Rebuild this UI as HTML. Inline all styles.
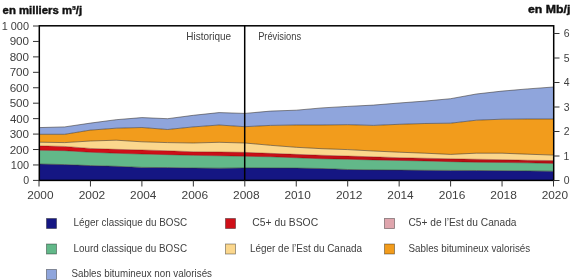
<!DOCTYPE html>
<html><head><meta charset="utf-8"><style>
html,body{margin:0;padding:0;background:#fff;width:580px;height:280px;overflow:hidden}
svg{display:block;will-change:transform}
text{font-family:"Liberation Sans",sans-serif}
</style></head><body>
<svg width="580" height="280" viewBox="0 0 580 280">
<rect width="580" height="280" fill="#fff"/>
<polygon points="39.00,164.00 64.72,164.60 90.45,165.60 116.17,166.30 141.90,167.40 167.62,167.60 193.35,168.00 219.07,168.20 244.80,167.90 270.52,168.00 296.25,168.10 321.98,168.50 347.70,169.50 373.43,169.90 399.15,170.10 424.88,170.30 450.60,170.40 476.32,170.50 502.05,170.70 527.77,170.90 553.50,171.20 553.50,180.50 527.77,180.50 502.05,180.50 476.32,180.50 450.60,180.50 424.88,180.50 399.15,180.50 373.43,180.50 347.70,180.50 321.98,180.50 296.25,180.50 270.52,180.50 244.80,180.50 219.07,180.50 193.35,180.50 167.62,180.50 141.90,180.50 116.17,180.50 90.45,180.50 64.72,180.50 39.00,180.50" fill="#151683"/>
<polygon points="39.00,150.25 64.72,150.65 90.45,152.25 116.17,153.25 141.90,154.05 167.62,154.65 193.35,155.35 219.07,155.75 244.80,156.25 270.52,156.75 296.25,157.75 321.98,158.75 347.70,159.25 373.43,159.95 399.15,160.45 424.88,160.95 450.60,161.65 476.32,162.25 502.05,162.45 527.77,162.85 553.50,163.45 553.50,171.20 527.77,170.90 502.05,170.70 476.32,170.50 450.60,170.40 424.88,170.30 399.15,170.10 373.43,169.90 347.70,169.50 321.98,168.50 296.25,168.10 270.52,168.00 244.80,167.90 219.07,168.20 193.35,168.00 167.62,167.60 141.90,167.40 116.17,166.30 90.45,165.60 64.72,164.60 39.00,164.00" fill="#62b889"/>
<defs><linearGradient id="rg" gradientUnits="userSpaceOnUse" x1="39" y1="0" x2="553" y2="0"><stop offset="0" stop-color="#d40f18"/><stop offset="0.45" stop-color="#c80f17"/><stop offset="1" stop-color="#b60f15"/></linearGradient></defs>
<polygon points="39.00,145.85 64.72,146.45 90.45,148.45 116.17,149.35 141.90,149.95 167.62,150.75 193.35,151.75 219.07,151.95 244.80,152.35 270.52,153.35 296.25,154.35 321.98,155.25 347.70,156.05 373.43,156.85 399.15,157.65 424.88,158.25 450.60,158.75 476.32,159.25 502.05,159.65 527.77,160.25 553.50,160.55 553.50,163.45 527.77,162.85 502.05,162.45 476.32,162.25 450.60,161.65 424.88,160.95 399.15,160.45 373.43,159.95 347.70,159.25 321.98,158.75 296.25,157.75 270.52,156.75 244.80,156.25 219.07,155.75 193.35,155.35 167.62,154.65 141.90,154.05 116.17,153.25 90.45,152.25 64.72,150.65 39.00,150.25" fill="url(#rg)"/>
<polygon points="39.00,142.20 64.72,142.60 90.45,141.00 116.17,140.20 141.90,141.80 167.62,142.60 193.35,143.00 219.07,142.30 244.80,143.00 270.52,145.30 296.25,147.30 321.98,148.70 347.70,149.60 373.43,151.00 399.15,152.20 424.88,153.20 450.60,154.40 476.32,153.20 502.05,153.20 527.77,154.20 553.50,155.10 553.50,160.55 527.77,160.25 502.05,159.65 476.32,159.25 450.60,158.75 424.88,158.25 399.15,157.65 373.43,156.85 347.70,156.05 321.98,155.25 296.25,154.35 270.52,153.35 244.80,152.35 219.07,151.95 193.35,151.75 167.62,150.75 141.90,149.95 116.17,149.35 90.45,148.45 64.72,146.45 39.00,145.85" fill="#fbd78d"/>
<polygon points="39.00,134.30 64.72,134.30 90.45,130.10 116.17,128.20 141.90,127.50 167.62,129.50 193.35,126.90 219.07,125.00 244.80,126.70 270.52,125.40 296.25,125.00 321.98,125.00 347.70,124.70 373.43,125.40 399.15,124.30 424.88,123.50 450.60,123.20 476.32,120.20 502.05,119.20 527.77,119.00 553.50,119.00 553.50,155.10 527.77,154.20 502.05,153.20 476.32,153.20 450.60,154.40 424.88,153.20 399.15,152.20 373.43,151.00 347.70,149.60 321.98,148.70 296.25,147.30 270.52,145.30 244.80,143.00 219.07,142.30 193.35,143.00 167.62,142.60 141.90,141.80 116.17,140.20 90.45,141.00 64.72,142.60 39.00,142.20" fill="#f29c1c"/>
<polygon points="39.00,127.60 64.72,126.90 90.45,123.10 116.17,119.70 141.90,117.60 167.62,118.70 193.35,115.30 219.07,112.60 244.80,113.40 270.52,111.10 296.25,110.20 321.98,107.90 347.70,106.40 373.43,105.10 399.15,103.00 424.88,101.10 450.60,98.70 476.32,94.00 502.05,91.10 527.77,88.90 553.50,87.00 553.50,119.00 527.77,119.00 502.05,119.20 476.32,120.20 450.60,123.20 424.88,123.50 399.15,124.30 373.43,125.40 347.70,124.70 321.98,125.00 296.25,125.00 270.52,125.40 244.80,126.70 219.07,125.00 193.35,126.90 167.62,129.50 141.90,127.50 116.17,128.20 90.45,130.10 64.72,134.30 39.00,134.30" fill="#8fa5dc"/>
<polyline points="39.00,164.00 64.72,164.60 90.45,165.60 116.17,166.30 141.90,167.40 167.62,167.60 193.35,168.00 219.07,168.20 244.80,167.90 270.52,168.00 296.25,168.10 321.98,168.50 347.70,169.50 373.43,169.90 399.15,170.10 424.88,170.30 450.60,170.40 476.32,170.50 502.05,170.70 527.77,170.90 553.50,171.20" fill="none" stroke="rgba(50,45,40,0.6)" stroke-width="0.9"/>
<polyline points="39.00,142.20 64.72,142.60 90.45,141.00 116.17,140.20 141.90,141.80 167.62,142.60 193.35,143.00 219.07,142.30 244.80,143.00 270.52,145.30 296.25,147.30 321.98,148.70 347.70,149.60 373.43,151.00 399.15,152.20 424.88,153.20 450.60,154.40 476.32,153.20 502.05,153.20 527.77,154.20 553.50,155.10" fill="none" stroke="rgba(50,45,40,0.6)" stroke-width="0.9"/>
<polyline points="39.00,134.30 64.72,134.30 90.45,130.10 116.17,128.20 141.90,127.50 167.62,129.50 193.35,126.90 219.07,125.00 244.80,126.70 270.52,125.40 296.25,125.00 321.98,125.00 347.70,124.70 373.43,125.40 399.15,124.30 424.88,123.50 450.60,123.20 476.32,120.20 502.05,119.20 527.77,119.00 553.50,119.00" fill="none" stroke="rgba(50,45,40,0.6)" stroke-width="0.9"/>
<polyline points="39.00,127.60 64.72,126.90 90.45,123.10 116.17,119.70 141.90,117.60 167.62,118.70 193.35,115.30 219.07,112.60 244.80,113.40 270.52,111.10 296.25,110.20 321.98,107.90 347.70,106.40 373.43,105.10 399.15,103.00 424.88,101.10 450.60,98.70 476.32,94.00 502.05,91.10 527.77,88.90 553.50,87.00" fill="none" stroke="rgba(50,45,40,0.6)" stroke-width="0.9"/>
<polyline points="39.00,145.85 64.72,146.45 90.45,148.45 116.17,149.35 141.90,149.95 167.62,150.75 193.35,151.75 219.07,151.95 244.80,152.35 270.52,153.35 296.25,154.35 321.98,155.25 347.70,156.05 373.43,156.85 399.15,157.65 424.88,158.25 450.60,158.75 476.32,159.25 502.05,159.65 527.77,160.25 553.50,160.55" fill="none" stroke="rgba(90,0,0,0.5)" stroke-width="0.7"/>
<polyline points="39.00,150.25 64.72,150.65 90.45,152.25 116.17,153.25 141.90,154.05 167.62,154.65 193.35,155.35 219.07,155.75 244.80,156.25 270.52,156.75 296.25,157.75 321.98,158.75 347.70,159.25 373.43,159.95 399.15,160.45 424.88,160.95 450.60,161.65 476.32,162.25 502.05,162.45 527.77,162.85 553.50,163.45" fill="none" stroke="rgba(80,0,0,0.5)" stroke-width="0.7"/>
<rect x="39.3" y="25.8" width="514.4000000000001" height="154.6" fill="none" stroke="#000" stroke-width="1.5"/>
<line x1="244.7" y1="25.5" x2="244.7" y2="180.5" stroke="#000" stroke-width="1.5"/>
<line x1="33" y1="180.40" x2="39.0" y2="180.40" stroke="#333" stroke-width="1"/>
<line x1="33" y1="164.96" x2="39.0" y2="164.96" stroke="#333" stroke-width="1"/>
<line x1="33" y1="149.52" x2="39.0" y2="149.52" stroke="#333" stroke-width="1"/>
<line x1="33" y1="134.08" x2="39.0" y2="134.08" stroke="#333" stroke-width="1"/>
<line x1="33" y1="118.64" x2="39.0" y2="118.64" stroke="#333" stroke-width="1"/>
<line x1="33" y1="103.20" x2="39.0" y2="103.20" stroke="#333" stroke-width="1"/>
<line x1="33" y1="87.76" x2="39.0" y2="87.76" stroke="#333" stroke-width="1"/>
<line x1="33" y1="72.32" x2="39.0" y2="72.32" stroke="#333" stroke-width="1"/>
<line x1="33" y1="56.88" x2="39.0" y2="56.88" stroke="#333" stroke-width="1"/>
<line x1="33" y1="41.44" x2="39.0" y2="41.44" stroke="#333" stroke-width="1"/>
<line x1="33" y1="26.00" x2="39.0" y2="26.00" stroke="#333" stroke-width="1"/>
<line x1="553.5" y1="180.50" x2="559.5" y2="180.50" stroke="#333" stroke-width="1"/>
<line x1="553.5" y1="156.00" x2="559.5" y2="156.00" stroke="#333" stroke-width="1"/>
<line x1="553.5" y1="131.50" x2="559.5" y2="131.50" stroke="#333" stroke-width="1"/>
<line x1="553.5" y1="107.00" x2="559.5" y2="107.00" stroke="#333" stroke-width="1"/>
<line x1="553.5" y1="82.50" x2="559.5" y2="82.50" stroke="#333" stroke-width="1"/>
<line x1="553.5" y1="58.00" x2="559.5" y2="58.00" stroke="#333" stroke-width="1"/>
<line x1="553.5" y1="33.50" x2="559.5" y2="33.50" stroke="#333" stroke-width="1"/>
<line x1="39.00" y1="180.5" x2="39.00" y2="186.5" stroke="#333" stroke-width="1"/>
<line x1="90.45" y1="180.5" x2="90.45" y2="186.5" stroke="#333" stroke-width="1"/>
<line x1="141.90" y1="180.5" x2="141.90" y2="186.5" stroke="#333" stroke-width="1"/>
<line x1="193.35" y1="180.5" x2="193.35" y2="186.5" stroke="#333" stroke-width="1"/>
<line x1="244.80" y1="180.5" x2="244.80" y2="186.5" stroke="#333" stroke-width="1"/>
<line x1="296.25" y1="180.5" x2="296.25" y2="186.5" stroke="#333" stroke-width="1"/>
<line x1="347.70" y1="180.5" x2="347.70" y2="186.5" stroke="#333" stroke-width="1"/>
<line x1="399.15" y1="180.5" x2="399.15" y2="186.5" stroke="#333" stroke-width="1"/>
<line x1="450.60" y1="180.5" x2="450.60" y2="186.5" stroke="#333" stroke-width="1"/>
<line x1="502.05" y1="180.5" x2="502.05" y2="186.5" stroke="#333" stroke-width="1"/>
<line x1="553.50" y1="180.5" x2="553.50" y2="186.5" stroke="#333" stroke-width="1"/>
<text x="23.16" y="184.40" font-size="11" font-weight="normal" textLength="5.90" lengthAdjust="spacingAndGlyphs" fill="#404040">0</text>
<text x="10.86" y="168.96" font-size="11" font-weight="normal" textLength="18.20" lengthAdjust="spacingAndGlyphs" fill="#404040">100</text>
<text x="9.67" y="153.52" font-size="11" font-weight="normal" textLength="19.41" lengthAdjust="spacingAndGlyphs" fill="#404040">200</text>
<text x="9.67" y="138.08" font-size="11" font-weight="normal" textLength="19.41" lengthAdjust="spacingAndGlyphs" fill="#404040">300</text>
<text x="9.94" y="122.64" font-size="11" font-weight="normal" textLength="19.14" lengthAdjust="spacingAndGlyphs" fill="#404040">400</text>
<text x="9.67" y="107.20" font-size="11" font-weight="normal" textLength="19.41" lengthAdjust="spacingAndGlyphs" fill="#404040">500</text>
<text x="9.67" y="91.76" font-size="11" font-weight="normal" textLength="19.41" lengthAdjust="spacingAndGlyphs" fill="#404040">600</text>
<text x="9.67" y="76.32" font-size="11" font-weight="normal" textLength="19.41" lengthAdjust="spacingAndGlyphs" fill="#404040">700</text>
<text x="9.67" y="60.88" font-size="11" font-weight="normal" textLength="19.41" lengthAdjust="spacingAndGlyphs" fill="#404040">800</text>
<text x="9.67" y="45.44" font-size="11" font-weight="normal" textLength="19.41" lengthAdjust="spacingAndGlyphs" fill="#404040">900</text>
<text x="1.66" y="30.00" font-size="11" font-weight="normal" textLength="27.32" lengthAdjust="spacingAndGlyphs" fill="#404040">1 000</text>
<text x="563.85" y="184.30" font-size="11" font-weight="normal" textLength="5.82" lengthAdjust="spacingAndGlyphs" fill="#404040">0</text>
<text x="563.61" y="159.80" font-size="11" font-weight="normal" textLength="5.82" lengthAdjust="spacingAndGlyphs" fill="#404040">1</text>
<text x="563.73" y="135.30" font-size="11" font-weight="normal" textLength="5.82" lengthAdjust="spacingAndGlyphs" fill="#404040">2</text>
<text x="563.73" y="110.80" font-size="11" font-weight="normal" textLength="5.82" lengthAdjust="spacingAndGlyphs" fill="#404040">3</text>
<text x="563.73" y="86.30" font-size="11" font-weight="normal" textLength="5.82" lengthAdjust="spacingAndGlyphs" fill="#404040">4</text>
<text x="563.73" y="61.80" font-size="11" font-weight="normal" textLength="5.82" lengthAdjust="spacingAndGlyphs" fill="#404040">5</text>
<text x="563.73" y="37.30" font-size="11" font-weight="normal" textLength="5.82" lengthAdjust="spacingAndGlyphs" fill="#404040">6</text>
<text x="27.21" y="199.20" font-size="11" font-weight="normal" textLength="26.29" lengthAdjust="spacingAndGlyphs" fill="#404040">2000</text>
<text x="78.66" y="199.20" font-size="11" font-weight="normal" textLength="26.57" lengthAdjust="spacingAndGlyphs" fill="#404040">2002</text>
<text x="130.11" y="199.20" font-size="11" font-weight="normal" textLength="26.29" lengthAdjust="spacingAndGlyphs" fill="#404040">2004</text>
<text x="181.56" y="199.20" font-size="11" font-weight="normal" textLength="26.57" lengthAdjust="spacingAndGlyphs" fill="#404040">2006</text>
<text x="233.01" y="199.20" font-size="11" font-weight="normal" textLength="26.57" lengthAdjust="spacingAndGlyphs" fill="#404040">2008</text>
<text x="284.46" y="199.20" font-size="11" font-weight="normal" textLength="26.29" lengthAdjust="spacingAndGlyphs" fill="#404040">2010</text>
<text x="335.91" y="199.20" font-size="11" font-weight="normal" textLength="26.57" lengthAdjust="spacingAndGlyphs" fill="#404040">2012</text>
<text x="387.36" y="199.20" font-size="11" font-weight="normal" textLength="26.29" lengthAdjust="spacingAndGlyphs" fill="#404040">2014</text>
<text x="438.81" y="199.20" font-size="11" font-weight="normal" textLength="26.57" lengthAdjust="spacingAndGlyphs" fill="#404040">2016</text>
<text x="490.26" y="199.20" font-size="11" font-weight="normal" textLength="26.57" lengthAdjust="spacingAndGlyphs" fill="#404040">2018</text>
<text x="541.71" y="199.20" font-size="11" font-weight="normal" textLength="26.29" lengthAdjust="spacingAndGlyphs" fill="#404040">2020</text>
<text x="2.64" y="13.50" font-size="11" font-weight="bold" textLength="79.51" lengthAdjust="spacingAndGlyphs" fill="#111" stroke="#111" stroke-width="0.4">en milliers m³/j</text>
<text x="527.92" y="13.40" font-size="11" font-weight="bold" textLength="42.40" lengthAdjust="spacingAndGlyphs" fill="#111" stroke="#111" stroke-width="0.4">en Mb/j</text>
<text x="186.29" y="39.60" font-size="10.5" font-weight="normal" textLength="44.88" lengthAdjust="spacingAndGlyphs" fill="#404040">Historique</text>
<text x="258.14" y="39.60" font-size="10.5" font-weight="normal" textLength="42.93" lengthAdjust="spacingAndGlyphs" fill="#404040">Prévisions</text>
<rect x="46.5" y="218.5" width="10" height="10" fill="#151683" stroke="rgba(0,0,0,0.45)" stroke-width="0.8"/>
<text x="73.60" y="225.70" font-size="10.5" font-weight="normal" textLength="113.51" lengthAdjust="spacingAndGlyphs" fill="#404040">Léger classique du BOSC</text>
<rect x="225.5" y="218.5" width="10" height="10" fill="#cf0f18" stroke="rgba(0,0,0,0.45)" stroke-width="0.8"/>
<text x="252.31" y="225.70" font-size="10.5" font-weight="normal" textLength="65.82" lengthAdjust="spacingAndGlyphs" fill="#404040">C5+ du BSOC</text>
<rect x="384.5" y="218.5" width="10" height="10" fill="#dfa5ad" stroke="rgba(0,0,0,0.45)" stroke-width="0.8"/>
<text x="408.51" y="225.70" font-size="10.5" font-weight="normal" textLength="108.04" lengthAdjust="spacingAndGlyphs" fill="#404040">C5+ de l’Est du Canada</text>
<rect x="46.5" y="244.0" width="10" height="10" fill="#62b889" stroke="rgba(0,0,0,0.45)" stroke-width="0.8"/>
<text x="73.50" y="251.80" font-size="10.5" font-weight="normal" textLength="113.51" lengthAdjust="spacingAndGlyphs" fill="#404040">Lourd classique du BOSC</text>
<rect x="225.5" y="244.0" width="10" height="10" fill="#fbd78d" stroke="rgba(0,0,0,0.45)" stroke-width="0.8"/>
<text x="249.99" y="251.80" font-size="10.5" font-weight="normal" textLength="111.97" lengthAdjust="spacingAndGlyphs" fill="#404040">Léger de l’Est du Canada</text>
<rect x="384.5" y="244.0" width="10" height="10" fill="#f29c1c" stroke="rgba(0,0,0,0.45)" stroke-width="0.8"/>
<text x="408.53" y="251.80" font-size="10.5" font-weight="normal" textLength="121.65" lengthAdjust="spacingAndGlyphs" fill="#404040">Sables bitumineux valorisés</text>
<rect x="46.5" y="269.5" width="10" height="10" fill="#8fa5dc" stroke="rgba(0,0,0,0.45)" stroke-width="0.8"/>
<text x="71.53" y="277.30" font-size="10.5" font-weight="normal" textLength="140.49" lengthAdjust="spacingAndGlyphs" fill="#404040">Sables bitumineux non valorisés</text>
</svg>
</body></html>
